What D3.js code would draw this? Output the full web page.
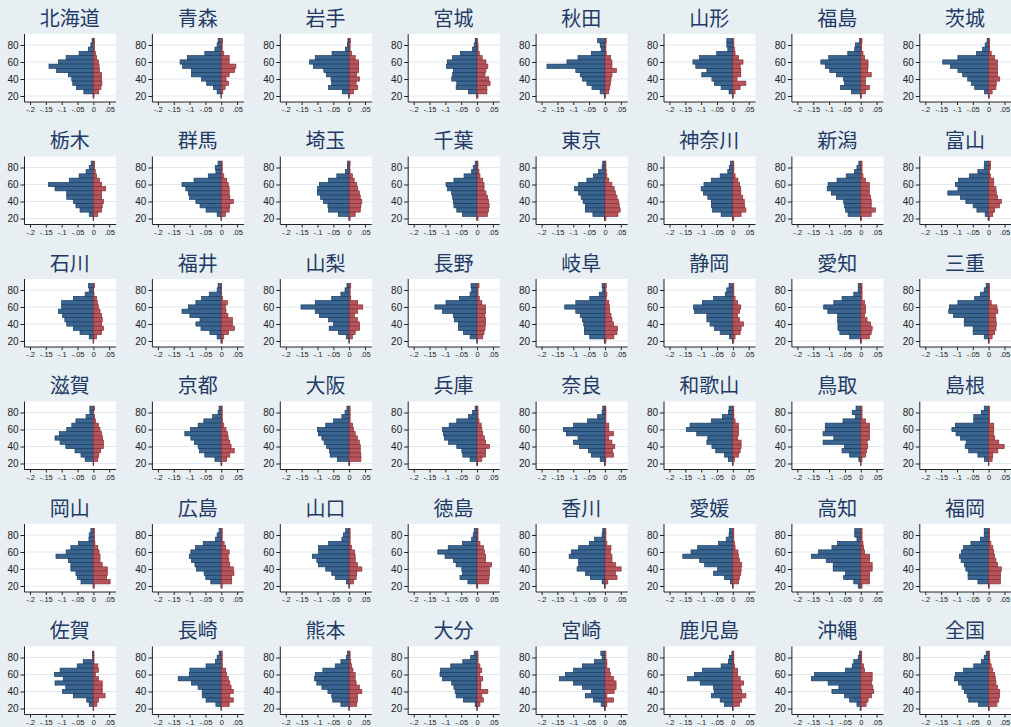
<!DOCTYPE html>
<html>
<head>
<meta charset="utf-8">
<script src="https://cdn.jsdelivr.net/npm/d3@7"></script>
<style>
  html, body { margin: 0; padding: 0; background: #e8eff2; }
  svg { display: block; }
</style>
</head>
<body>
<div id="chart"></div>
<script>
// panels, in reading order (8 per row)
const prefectures = [
  "北海道", "青森", "岩手", "宮城", "秋田", "山形", "福島", "茨城",
  "栃木", "群馬", "埼玉", "千葉", "東京", "神奈川", "新潟", "富山",
  "石川", "福井", "山梨", "長野", "岐阜", "静岡", "愛知", "三重",
  "滋賀", "京都", "大阪", "兵庫", "奈良", "和歌山", "鳥取", "島根",
  "岡山", "広島", "山口", "徳島", "香川", "愛媛", "高知", "福岡",
  "佐賀", "長崎", "熊本", "大分", "宮崎", "鹿児島", "沖縄", "全国"
];

// age bins (bar centres), top to bottom
const ages = [85, 80, 75, 70, 65, 60, 55, 50, 45, 40, 35, 30, 25, 20];

// left (blue) bars, one row per panel, same order as ages
const blueValues = [
  [-.004, -.008, -.016, -.045, -.086, -.11, -.14, -.116, -.079, -.068, -.065, -.053, -.03, -.001],
  [-.01, -.013, -.02, -.052, -.107, -.13, -.122, -.094, -.094, -.062, -.046, -.025, -.013, -.001],
  [-.004, -.005, -.012, -.054, -.107, -.125, -.113, -.08, -.072, -.057, -.055, -.065, -.021, -.002],
  [-.006, -.009, -.014, -.053, -.077, -.094, -.096, -.075, -.077, -.08, -.064, -.066, -.027, -.002],
  [-.023, -.015, -.012, -.043, -.085, -.12, -.183, -.092, -.078, -.071, -.057, -.041, -.015, -.002],
  [-.019, -.019, -.016, -.051, -.105, -.126, -.117, -.082, -.098, -.066, -.058, -.037, -.012, -.001],
  [-.004, -.017, -.019, -.041, -.101, -.126, -.112, -.098, -.077, -.054, -.051, -.064, -.029, -.001],
  [-.005, -.011, -.019, -.039, -.097, -.145, -.121, -.097, -.082, -.066, -.055, -.044, -.013, -.001],
  [-.007, -.013, -.023, -.045, -.076, -.142, -.121, -.084, -.084, -.063, -.055, -.042, -.013, -.001],
  [-.01, -.019, -.017, -.041, -.086, -.124, -.112, -.104, -.1, -.08, -.067, -.048, -.013, -.001],
  [-.005, -.005, -.012, -.039, -.065, -.094, -.1, -.1, -.09, -.081, -.067, -.065, -.034, -.001],
  [-.006, -.012, -.017, -.041, -.073, -.098, -.093, -.08, -.077, -.075, -.073, -.064, -.046, -.001],
  [-.007, -.009, -.02, -.036, -.057, -.083, -.096, -.083, -.075, -.069, -.062, -.062, -.038, -.001],
  [-.007, -.011, -.016, -.04, -.068, -.091, -.1, -.093, -.079, -.068, -.068, -.064, -.037, -.001],
  [-.006, -.012, -.02, -.046, -.075, -.103, -.106, -.093, -.077, -.054, -.051, -.048, -.04, -.001],
  [-.013, -.014, -.034, -.061, -.095, -.105, -.097, -.129, -.089, -.072, -.049, -.037, -.011, -.002],
  [-.015, -.013, -.026, -.063, -.1, -.1, -.11, -.097, -.09, -.084, -.063, -.042, -.013, -.001],
  [-.01, -.013, -.038, -.062, -.08, -.104, -.124, -.099, -.067, -.08, -.064, -.036, -.013, -.001],
  [-.007, -.013, -.026, -.055, -.107, -.152, -.107, -.094, -.065, -.049, -.063, -.034, -.009, -.001],
  [-.019, -.017, -.022, -.056, -.098, -.133, -.109, -.075, -.072, -.059, -.059, -.043, -.022, -.001],
  [-.009, -.007, -.018, -.048, -.092, -.127, -.092, -.078, -.071, -.067, -.065, -.065, -.048, -.001],
  [-.012, -.019, -.024, -.061, -.096, -.124, -.121, -.082, -.082, -.072, -.058, -.04, -.011, -.001],
  [-.008, -.008, -.022, -.059, -.085, -.117, -.104, -.073, -.073, -.072, -.072, -.066, -.035, -.001],
  [-.008, -.014, -.026, -.044, -.097, -.124, -.126, -.111, -.077, -.077, -.049, -.049, -.014, -.001],
  [-.011, -.011, -.023, -.055, -.068, -.084, -.107, -.121, -.105, -.087, -.058, -.039, -.026, -.001],
  [-.007, -.01, -.027, -.055, -.073, -.097, -.115, -.096, -.085, -.073, -.069, -.052, -.02, -.001],
  [-.007, -.013, -.023, -.049, -.074, -.1, -.097, -.086, -.079, -.071, -.062, -.06, -.037, -.001],
  [-.006, -.014, -.027, -.064, -.088, -.109, -.106, -.103, -.09, -.064, -.048, -.045, -.022, -.001],
  [-.007, -.009, -.023, -.055, -.099, -.131, -.122, -.085, -.099, -.08, -.052, -.043, -.015, -.001],
  [-.012, -.014, -.033, -.068, -.135, -.147, -.114, -.079, -.082, -.066, -.054, -.026, -.014, -.001],
  [-.015, -.027, -.017, -.056, -.112, -.112, -.119, -.085, -.119, -.051, -.059, -.035, -.006, -.001],
  [-.014, -.023, -.047, -.047, -.105, -.116, -.103, -.089, -.071, -.074, -.063, -.034, -.013, -.001],
  [-.008, -.013, -.014, -.047, -.071, -.086, -.118, -.079, -.071, -.071, -.055, -.051, -.039, -.001],
  [-.007, -.013, -.018, -.057, -.081, -.096, -.101, -.094, -.083, -.078, -.054, -.049, -.033, -.001],
  [-.011, -.018, -.023, -.065, -.097, -.097, -.116, -.102, -.097, -.074, -.055, -.044, -.009, -.001],
  [-.009, -.012, -.017, -.046, -.091, -.124, -.101, -.075, -.066, -.048, -.046, -.054, -.029, -.001],
  [-.007, -.009, -.033, -.049, -.083, -.106, -.113, -.083, -.083, -.088, -.062, -.046, -.009, -.001],
  [-.011, -.012, -.021, -.045, -.111, -.132, -.158, -.105, -.089, -.048, -.061, -.027, -.008, -.001],
  [-.019, -.019, -.012, -.073, -.091, -.133, -.156, -.109, -.087, -.087, -.048, -.054, -.022, -.008],
  [-.014, -.014, -.026, -.056, -.079, -.086, -.092, -.087, -.077, -.072, -.065, -.065, -.034, -.001],
  [-.003, -.002, -.032, -.051, -.105, -.123, -.095, -.121, -.087, -.097, -.063, -.021, -.013, -.001],
  [-.007, -.013, -.018, -.048, -.099, -.101, -.136, -.094, -.073, -.06, -.06, -.048, -.017, -.001],
  [-.005, -.009, -.026, -.044, -.083, -.107, -.109, -.102, -.086, -.067, -.055, -.052, -.026, -.001],
  [-.009, -.02, -.045, -.083, -.115, -.117, -.109, -.08, -.073, -.069, -.066, -.043, -.006, -.001],
  [-.013, -.009, -.033, -.071, -.099, -.125, -.144, -.099, -.071, -.043, -.062, -.036, -.012, -.001],
  [-.003, -.011, -.014, -.037, -.096, -.121, -.143, -.103, -.061, -.059, -.068, -.04, -.027, -.001],
  [-.004, -.008, -.022, -.027, -.048, -.146, -.156, -.103, -.069, -.091, -.051, -.035, -.012, -.002],
  [-.008, -.014, -.023, -.047, -.079, -.105, -.108, -.095, -.084, -.077, -.068, -.063, -.032, -.001]
];

// right (red) bars
const redValues = [
  [.004, .003, .004, .007, .01, .016, .018, .019, .026, .026, .027, .024, .017, .002],
  [.004, .003, .003, .008, .025, .025, .046, .042, .025, .015, .023, .012, .005, .001],
  [.004, .003, .003, .008, .019, .03, .03, .03, .024, .033, .022, .027, .014, .001],
  [.001, .003, .003, .007, .016, .028, .034, .028, .025, .037, .041, .031, .031, .003],
  [.004, .003, .003, .004, .018, .022, .022, .036, .022, .019, .017, .015, .012, .001],
  [.003, .003, .005, .007, .018, .032, .023, .025, .025, .013, .041, .023, .007, .001],
  [.004, .003, .003, .007, .012, .023, .023, .022, .033, .015, .015, .027, .015, .002],
  [.003, .003, .003, .008, .019, .028, .028, .028, .028, .035, .024, .023, .011, .002],
  [.004, .004, .006, .01, .019, .026, .039, .026, .026, .032, .028, .026, .014, .001],
  [.003, .003, .003, .008, .017, .022, .025, .025, .027, .038, .027, .025, .013, .001],
  [.003, .002, .003, .01, .016, .024, .027, .032, .035, .04, .037, .035, .019, .003],
  [.003, .003, .006, .009, .018, .022, .022, .028, .033, .036, .038, .036, .033, .003],
  [.003, .003, .004, .006, .012, .022, .029, .033, .038, .043, .045, .048, .041, .003],
  [.003, .003, .003, .007, .016, .021, .025, .025, .031, .036, .037, .041, .026, .003],
  [.004, .004, .004, .007, .015, .027, .027, .027, .031, .033, .033, .046, .033, .002],
  [.006, .006, .003, .006, .016, .016, .023, .024, .028, .04, .034, .019, .013, .002],
  [.004, .001, .002, .01, .013, .016, .021, .026, .028, .026, .032, .026, .01, .001],
  [.001, .001, .001, .004, .019, .013, .015, .021, .035, .035, .042, .023, .008, .004],
  [.005, .003, .003, .005, .027, .043, .027, .017, .026, .033, .033, .019, .01, .001],
  [.006, .003, .003, .007, .015, .027, .027, .025, .027, .027, .025, .022, .018, .001],
  [.004, .003, .006, .004, .012, .014, .015, .019, .022, .027, .04, .038, .028, .003],
  [.003, .003, .003, .007, .015, .025, .021, .015, .021, .034, .026, .023, .007, .003],
  [.004, .004, .004, .004, .012, .015, .015, .012, .02, .031, .036, .033, .027, .002],
  [.003, .003, .003, .003, .008, .026, .029, .021, .023, .024, .023, .019, .011, .002],
  [.004, .001, .004, .007, .016, .021, .026, .029, .032, .032, .023, .017, .014, .001],
  [.003, .003, .003, .004, .008, .015, .02, .022, .027, .031, .041, .027, .017, .002],
  [.003, .003, .003, .003, .011, .014, .019, .026, .032, .035, .035, .037, .037, .002],
  [.003, .003, .003, .006, .013, .015, .018, .023, .027, .039, .027, .027, .015, .002],
  [.003, .003, .003, .003, .012, .012, .027, .012, .022, .031, .024, .027, .003, .001],
  [.003, .003, .003, .007, .018, .018, .018, .015, .026, .026, .023, .018, .005, .001],
  [.004, .004, .004, .015, .028, .028, .028, .028, .02, .022, .018, .015, .004, .001],
  [.003, .003, .003, .003, .016, .016, .016, .019, .032, .049, .029, .013, .011, .001],
  [.004, .003, .004, .005, .014, .018, .021, .021, .028, .044, .044, .042, .053, .003],
  [.003, .003, .003, .009, .014, .025, .022, .024, .027, .038, .04, .033, .033, .003],
  [.003, .003, .003, .003, .008, .017, .019, .019, .026, .04, .024, .022, .014, .001],
  [.003, .003, .003, .009, .02, .023, .027, .027, .046, .039, .039, .038, .036, .002],
  [.003, .003, .003, .006, .019, .017, .022, .022, .033, .051, .033, .038, .009, .001],
  [.003, .003, .003, .005, .007, .016, .018, .021, .028, .026, .025, .021, .018, .001],
  [.004, .004, .004, .007, .009, .012, .028, .028, .036, .036, .028, .028, .028, .004],
  [.003, .003, .003, .007, .013, .016, .019, .023, .028, .04, .037, .037, .037, .002],
  [.002, .002, .002, .014, .016, .007, .016, .028, .028, .028, .037, .016, .011, .001],
  [.003, .003, .003, .004, .014, .017, .022, .027, .031, .038, .027, .038, .025, .001],
  [.003, .003, .005, .008, .012, .019, .019, .022, .032, .04, .026, .026, .024, .001],
  [.003, .003, .003, .009, .015, .009, .018, .012, .012, .034, .015, .02, .009, .001],
  [.003, .003, .006, .006, .014, .017, .027, .035, .035, .029, .006, .027, .006, .001],
  [.003, .003, .003, .005, .015, .015, .023, .034, .025, .028, .041, .028, .021, .001],
  [.003, .003, .003, .009, .012, .036, .036, .034, .038, .041, .034, .023, .017, .001],
  [.003, .003, .004, .008, .013, .019, .021, .023, .028, .035, .034, .032, .026, .002]
];

const xTicks = [-0.2, -0.15, -0.1, -0.05, 0, 0.05];
const xTickLabels = ["-.2", "-.15", "-.1", "-.05", "0", ".05"];
const yTicks = [20, 40, 60, 80];

const width = 1011;
const height = 727;
const nCols = 8;
const cellW = 127.9;
const cellH = 122.5;
const binHalf = 2.5;

// plot region inside one panel
const plotLeft = 24.5;
const plotRight = 116;
const plotTop = 34;
const plotBottom = 102;

const x = d3.scaleLinear().domain([-0.2, 0.05]).range([30, 109.2]);
const y = d3.scaleLinear().domain([20, 80]).range([96, 45]);

const blueFill = "#3a6590";
const blueLine = "#1b3d60";
const redFill = "#b6565c";
const redLine = "#8a2f36";
const textColor = "#222";

const svg = d3
  .select("#chart")
  .append("svg")
  .attr("width", width)
  .attr("height", height);

svg
  .append("rect")
  .attr("width", width)
  .attr("height", height)
  .attr("fill", "#e8eff2");

const panels = svg
  .selectAll("g.panel")
  .data(prefectures)
  .join("g")
  .attr("class", "panel")
  .attr(
    "transform",
    (_, i) => `translate(${(i % nCols) * cellW},${Math.floor(i / nCols) * cellH})`
  );

// title
panels
  .append("text")
  .attr("x", (plotLeft + plotRight) / 2 - 0.5)
  .attr("y", 25.5)
  .attr("text-anchor", "middle")
  .attr("font-family", "'Noto Sans CJK JP', 'Noto Sans', sans-serif")
  .attr("font-size", 20)
  .attr("fill", "#223a66")
  .text((d) => d);

// plot region
panels
  .append("rect")
  .attr("x", plotLeft)
  .attr("y", plotTop)
  .attr("width", plotRight - plotLeft)
  .attr("height", plotBottom - plotTop)
  .attr("fill", "#fff");

// gridlines
panels
  .append("g")
  .attr("class", "grid")
  .selectAll("line")
  .data(yTicks)
  .join("line")
  .attr("x1", plotLeft)
  .attr("x2", plotRight)
  .attr("y1", (d) => y(d))
  .attr("y2", (d) => y(d))
  .attr("stroke", "#e1e9ee")
  .attr("stroke-width", 1);

// bars
function bars(values, fill, line) {
  return (g, i) => {
    d3.select(g)
      .selectAll("rect")
      .data(ages.map((age, j) => ({ age, v: values[i][j] })))
      .join("rect")
      .attr("x", (d) => Math.min(x(d.v), x(0)))
      .attr("width", (d) => Math.abs(x(d.v) - x(0)))
      .attr("y", (d) => y(d.age + binHalf))
      .attr("height", (d) => y(d.age - binHalf) - y(d.age + binHalf))
      .attr("fill", fill)
      .attr("stroke", line)
      .attr("stroke-width", 0.7);
  };
}

panels.each(function (_, i) {
  const g = d3.select(this);
  bars(blueValues, blueFill, blueLine)(g.append("g").attr("class", "blue").node(), i);
  bars(redValues, redFill, redLine)(g.append("g").attr("class", "red").node(), i);
});

// y axis
panels
  .append("g")
  .attr("class", "y-axis")
  .attr("transform", `translate(${plotLeft},0)`)
  .call(
    d3.axisLeft(y).tickValues(yTicks).tickSize(4).tickPadding(2).tickFormat(d3.format("d"))
  )
  .call((g) => g.select(".domain").remove())
  .call((g) => g.selectAll(".tick line").attr("stroke", textColor))
  .call((g) =>
    g
      .selectAll(".tick text")
      .attr("fill", textColor)
      .attr("font-size", 10)
      .attr("font-family", "'Liberation Sans', Arial, sans-serif")
  );

// x axis
panels
  .append("g")
  .attr("class", "x-axis")
  .attr("transform", `translate(0,${plotBottom})`)
  .call(
    d3
      .axisBottom(x)
      .tickValues(xTicks)
      .tickSize(3)
      .tickPadding(2)
      .tickFormat((_, k) => xTickLabels[k])
  )
  .call((g) => g.select(".domain").remove())
  .call((g) => g.selectAll(".tick line").attr("stroke", textColor))
  .call((g) =>
    g
      .selectAll(".tick text")
      .attr("fill", textColor)
      .attr("font-size", 7.5)
      .attr("font-family", "'Liberation Sans', Arial, sans-serif")
  );

// axis lines
panels
  .append("line")
  .attr("x1", plotLeft)
  .attr("x2", plotLeft)
  .attr("y1", plotTop)
  .attr("y2", plotBottom)
  .attr("stroke", textColor);

panels
  .append("line")
  .attr("x1", plotLeft)
  .attr("x2", plotRight)
  .attr("y1", plotBottom)
  .attr("y2", plotBottom)
  .attr("stroke", textColor);
</script>
</body>
</html>
